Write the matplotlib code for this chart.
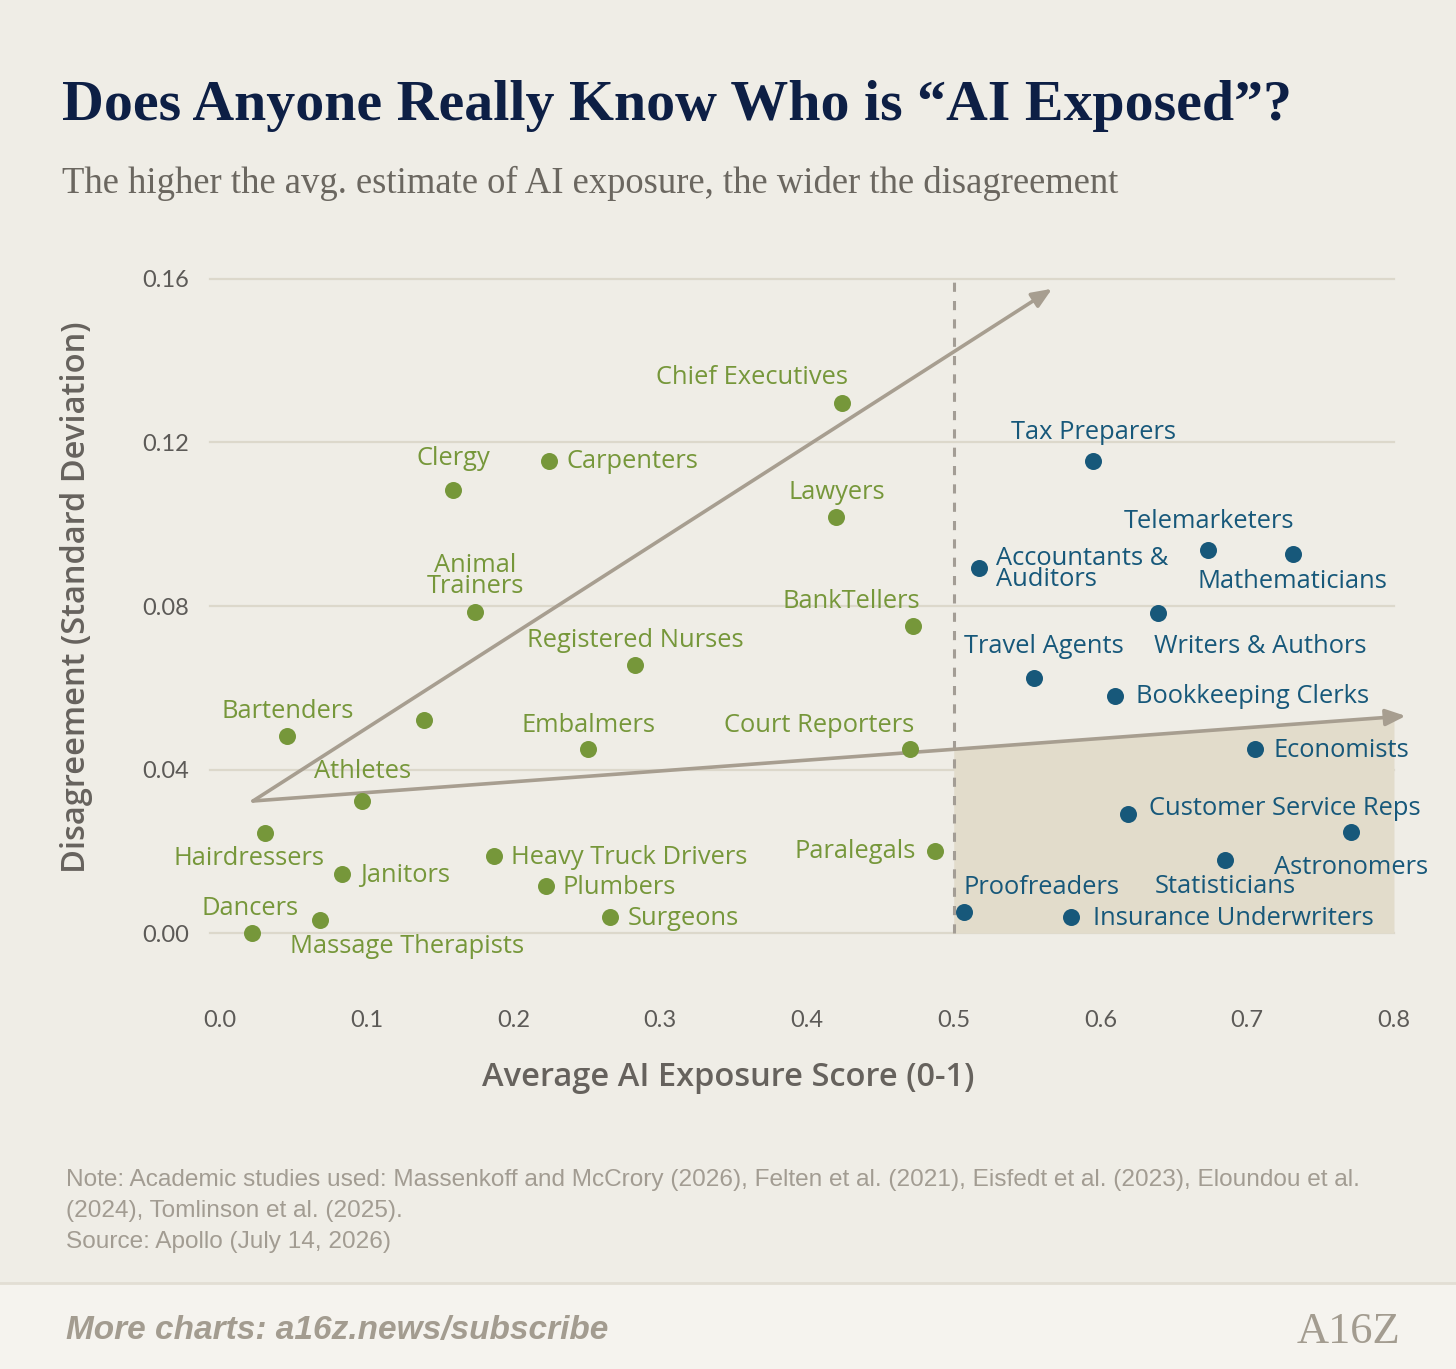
import matplotlib.pyplot as plt
from matplotlib.patches import Rectangle
import numpy as np

# data
green_names = ["Chief Executives", "Carpenters", "Clergy", "Lawyers", "Animal\nTrainers",
               "BankTellers", "Registered Nurses", "", "Bartenders", "Embalmers",
               "Court Reporters", "Athletes", "Hairdressers", "Heavy Truck Drivers",
               "Paralegals", "Janitors", "Plumbers", "Surgeons", "Massage Therapists", "Dancers"]
green_x = [0.424, 0.224, 0.159, 0.420, 0.174, 0.472, 0.283, 0.139, 0.046, 0.251,
           0.470, 0.097, 0.031, 0.187, 0.487, 0.083, 0.222, 0.266, 0.068, 0.022]
green_y = [0.1297, 0.1155, 0.1084, 0.1018, 0.0785, 0.0751, 0.0656, 0.0521, 0.0482, 0.0450,
           0.0450, 0.0323, 0.0245, 0.0188, 0.0201, 0.0144, 0.0115, 0.0039, 0.0032, 0.0000]

blue_names = ["Tax Preparers", "Accountants &\nAuditors", "Telemarketers", "Mathematicians",
              "Writers & Authors", "Travel Agents", "Bookkeeping Clerks", "Economists",
              "Customer Service Reps", "Astronomers", "Statisticians", "Proofreaders",
              "Insurance Underwriters"]
blue_x = [0.595, 0.517, 0.673, 0.731, 0.639, 0.555, 0.610, 0.705, 0.619, 0.771, 0.685, 0.507, 0.580]
blue_y = [0.1155, 0.0893, 0.0937, 0.0927, 0.0783, 0.0624, 0.0580, 0.0450, 0.0291, 0.0247,
          0.0179, 0.0051, 0.0039]

yticks = [0.00, 0.04, 0.08, 0.12, 0.16]
xticks = [0.0, 0.1, 0.2, 0.3, 0.4, 0.5, 0.6, 0.7, 0.8]

# trend arrows (start, end)
arrow_start = (0.0225, 0.0323)
arrow_up_end = (0.567, 0.1576)
arrow_flat_end = (0.808, 0.0531)
threshold = 0.5

# label offsets in pixels (dx, dy, ha)
green_off = [(-90, 25, "center"), (18, -1, "left"), (0, 31, "center"), (0, 24, "center"),
             (0, 36, "center"), (-61, 25, "center"), (0, 24, "center"), (0, 0, "center"),
             (0, 24, "center"), (0, 24, "center"), (-91, 24, "center"), (0, 29, "center"),
             (-16, -26, "center"), (17, -1, "left"), (-19, -1, "right"), (18, -1, "left"),
             (17, -1, "left"), (17, -1, "left"), (87, -27, "center"), (-2, 25, "center")]
blue_off = [(0, 28, "center"), (17, -1, "left"), (1, 28, "center"), (0, -27, "center"),
            (-4, -34, "left"), (9, 31, "center"), (21, -1, "left"), (19, -1, "left"),
            (21, 6, "left"), (0, -35, "center"), (0, -27, "center"), (78, 25, "center"),
            (22, -1, "left")]

BG = "#efede6"
GREEN = "#76973a"
BLUE = "#17587a"
GRAY_ARROW = "#a79e90"
SANS = ["Open Sans", "DejaVu Sans"]

plt.rcParams["font.family"] = SANS

fig = plt.figure(figsize=(14.56, 13.69), dpi=100, facecolor=BG)
ax = fig.add_axes([205.3 / 1456, 1 - 973.9 / 1369, 1232.7 / 1456, 735.8 / 1369])
ax.set_facecolor("none")
ax.set_xlim(-0.01, 0.83)
ax.set_ylim(-0.01, 0.17)
for s in ax.spines.values():
    s.set_visible(False)

# grid
for yv in yticks:
    ax.plot([-0.007, 0.8], [yv, yv], color="#dcd8cb", lw=1.6, zorder=0)

# shaded area right of threshold, below the flat arrow
slope = (arrow_flat_end[1] - arrow_start[1]) / (arrow_flat_end[0] - arrow_start[0])
sx = np.array([threshold, 0.8])
sy = arrow_start[1] + slope * (sx - arrow_start[0])
ax.fill_between(sx, 0, sy, color="#e2dccb", lw=0, zorder=0.5)

ax.plot([threshold, threshold], [0, 0.16], color="#a39d95", lw=2.2,
        ls=(0, (3, 3)), zorder=1)

for end in (arrow_up_end, arrow_flat_end):
    ax.annotate("", xy=end, xytext=arrow_start,
                arrowprops=dict(arrowstyle="-|>,head_length=1.2,head_width=0.5",
                                color=GRAY_ARROW, lw=2.6, shrinkA=0, shrinkB=0),
                zorder=2)

ax.scatter(green_x, green_y, s=150, color=GREEN, lw=0, zorder=3)
ax.scatter(blue_x, blue_y, s=150, color=BLUE, lw=0, zorder=3)

for names, xs, ys, offs, col in [(green_names, green_x, green_y, green_off, GREEN),
                                 (blue_names, blue_x, blue_y, blue_off, BLUE)]:
    for n, x, y, (dx, dy, ha) in zip(names, xs, ys, offs):
        if not n:
            continue
        ax.annotate(n, (x, y), xytext=(dx, dy), textcoords="offset pixels",
                    ha=ha, va="center", fontsize=18.4, color=col,
                    linespacing=0.8, zorder=4)

ax.set_xticks(xticks)
ax.set_xticklabels([f"{v:.1f}" for v in xticks])
ax.set_yticks(yticks)
ax.set_yticklabels([f"{v:.2f}" for v in yticks])
ax.tick_params(length=0, labelsize=17, labelcolor="#5c5a57", labelfontfamily="Lato")
ax.tick_params(axis="x", pad=26)
ax.tick_params(axis="y", pad=12)

ax.set_xlabel("Average AI Exposure Score (0-1)", fontsize=23.5, color="#66625d",
              fontweight="semibold")
ax.set_ylabel("Disagreement (Standard Deviation)", fontsize=23.5, color="#66625d",
              fontweight="semibold")
ax.xaxis.set_label_coords((728 - 205.3) / 1232.7, -(1061 - 973.9) / 735.8)
ax.yaxis.set_label_coords(-(205.3 - 93) / 1232.7, (973.9 - 597) / 735.8)

# titles
fig.text(62 / 1456, 1 - 120 / 1369, "Does Anyone Really Know Who is \u201cAI Exposed\u201d?",
         family=["Liberation Serif", "DejaVu Serif"], fontweight="bold",
         fontsize=41.7, color="#0d1f45", va="baseline")
fig.text(62 / 1456, 1 - 193 / 1369,
         "The higher the avg. estimate of AI exposure, the wider the disagreement",
         family=["Liberation Serif", "DejaVu Serif"], fontsize=26.4,
         color="#6b6760", va="baseline")

# notes
note_font = ["Liberation Sans Narrow", "Liberation Sans", "DejaVu Sans"]
notes = ["Note: Academic studies used: Massenkoff and McCrory (2026), Felten et al. (2021), "
         "Eisfedt et al. (2023), Eloundou et al.",
         "(2024), Tomlinson et al. (2025).",
         "Source: Apollo (July 14, 2026)"]
for i, line in enumerate(notes):
    fig.text(66 / 1456, 1 - (1186 + 31 * i) / 1369, line, family=note_font,
             fontsize=17.6, color="#a29c92", va="baseline")

# footer band
fig.patches.append(Rectangle((0, 0), 1, 86 / 1369, transform=fig.transFigure,
                             facecolor="#f5f3ee", edgecolor="none", zorder=0))
fig.lines.append(plt.Line2D([0, 1], [86 / 1369, 86 / 1369], transform=fig.transFigure,
                            color="#e2ded4", lw=2))
fig.text(66 / 1456, 1 - 1339 / 1369, "More charts: a16z.news/subscribe",
         family=note_font, fontsize=24, style="italic", fontweight="bold",
         color="#a39c90", va="baseline")
fig.text(1400 / 1456, 1 - 1343 / 1369, "A16Z", family=["Liberation Serif", "DejaVu Serif"],
         fontsize=32, color="#a39c90", ha="right", va="baseline")

fig.savefig("out.png", dpi=100, facecolor=BG)
